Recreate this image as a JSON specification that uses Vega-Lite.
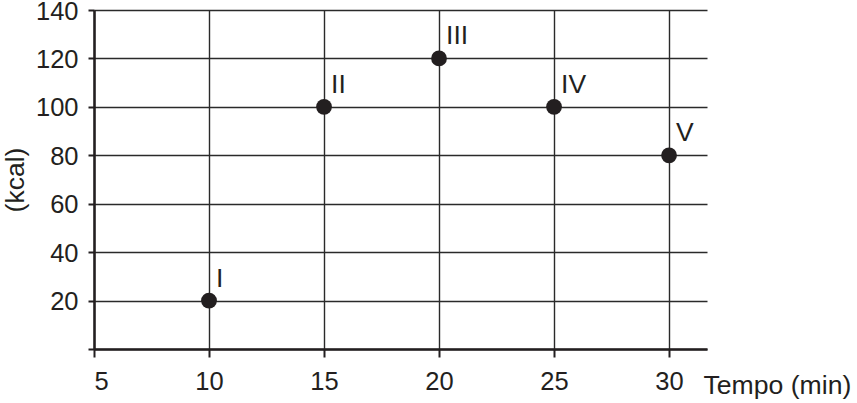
{
  "$schema": "https://vega.github.io/schema/vega-lite/v6.json",
  "autosize": {"type": "none"},
  "padding": {"left": 94, "top": 10, "right": 150, "bottom": 54},
  "width": 613,
  "height": 339,
  "background": "white",
  "config": {
    "view": {"stroke": null},
    "font": "Liberation Sans"
  },
  "data": {
    "values": [
      {"tempo": 10, "kcal": 20, "label": "I"},
      {"tempo": 15, "kcal": 100, "label": "II"},
      {"tempo": 20, "kcal": 120, "label": "III"},
      {"tempo": 25, "kcal": 100, "label": "IV"},
      {"tempo": 30, "kcal": 80, "label": "V"}
    ]
  },
  "layer": [
    {
      "mark": {"type": "point", "filled": true, "shape": "circle", "size": 250, "color": "#231f20", "opacity": 1},
      "encoding": {
        "x": {
          "field": "tempo", "type": "quantitative",
          "scale": {"domain": [5, 31.65], "nice": false, "zero": false},
          "axis": {
            "values": [5, 10, 15, 20, 25, 30],
            "grid": true, "gridColor": "#2a2a2a", "gridWidth": 1.4, "gridOpacity": 1,
            "domainColor": "#231f20", "domainWidth": 2.5,
            "tickColor": "#231f20", "tickWidth": 2, "tickSize": 8,
            "labelFontSize": 25.5, "labelColor": "#231f20", "labelPadding": 12, "labelFont": "Liberation Sans",
            "title": "Tempo (min)", "titleFontSize": 26.6, "titleFontWeight": "normal", "titleColor": "#231f20",
            "titleFont": "Liberation Sans",
            "titleAnchor": "start", "titleAlign": "left", "titleBaseline": "alphabetic",
            "titleX": 609, "titleY": 44
          }
        },
        "y": {
          "field": "kcal", "type": "quantitative",
          "scale": {"domain": [0, 140], "nice": false},
          "axis": {
            "values": [0, 20, 40, 60, 80, 100, 120, 140],
            "labelExpr": "datum.value == 0 ? '' : datum.label",
            "labelOffset": 1,
            "grid": true, "gridColor": "#2a2a2a", "gridWidth": 1.4, "gridOpacity": 1,
            "domainColor": "#231f20", "domainWidth": 2.5,
            "tickColor": "#231f20", "tickWidth": 2, "tickSize": 6,
            "labelFontSize": 25.5, "labelColor": "#231f20", "labelPadding": 10, "labelFont": "Liberation Sans",
            "title": "(kcal)", "titleFontSize": 26.5, "titleFontWeight": "normal", "titleColor": "#231f20",
            "titleFont": "Liberation Sans",
            "titleAngle": -90, "titleBaseline": "middle", "titleX": -79
          }
        }
      }
    },
    {
      "mark": {"type": "text", "align": "left", "baseline": "alphabetic", "dx": 7, "dy": -14, "fontSize": 26.5, "color": "#231f20", "font": "Liberation Sans"},
      "encoding": {
        "x": {"field": "tempo", "type": "quantitative"},
        "y": {"field": "kcal", "type": "quantitative"},
        "text": {"field": "label"}
      }
    }
  ]
}
